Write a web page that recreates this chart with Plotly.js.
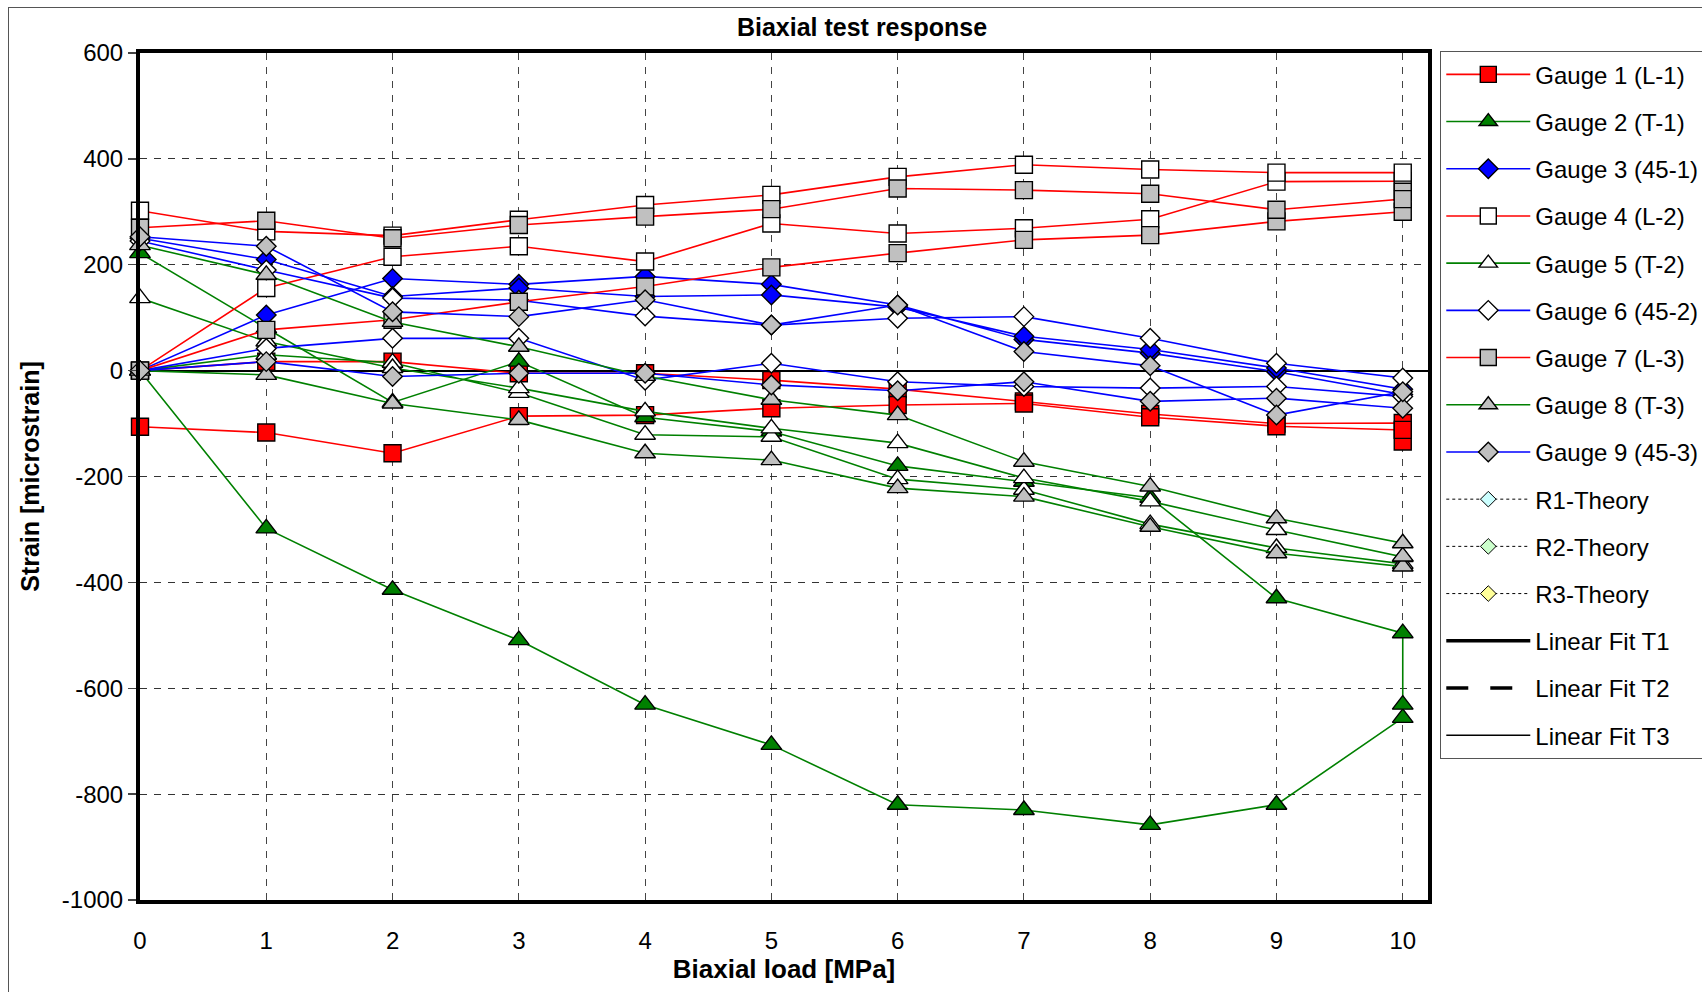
<!DOCTYPE html>
<html><head><meta charset="utf-8">
<script src="https://cdn.plot.ly/plotly-3.0.1.min.js"></script>
<style>
html,body{margin:0;padding:0;background:#fff;overflow:hidden}
#chart{width:1702px;height:992px;position:absolute;left:0;top:0}
#frame{position:absolute;left:8px;top:7px;width:1800px;height:1100px;border-left:1.3px solid #555;border-top:1.3px solid #555;pointer-events:none}
</style></head><body>
<div id="chart"></div><div id="frame"></div>
<script>
// Load steps (MPa): loading 0->10, hold readings at 10, unloading 10->0
const loadSteps = [0,1,2,3,4,5,6,7,8,9,10];
const unloadSteps = [10,9,8,7,6,5,4,3,2,1,0];
const holdStep = 10;

// Strain readings [microstrain]
const g1Load   = [0, 17, 17, -5, -5, -18, -35, -58, -82, -100, -99];
const g1Hold   = [-134];
const g1Unload = [-112, -105, -88, -62, -65, -71, -84, -86, -156, -117, -106];

const g2Load   = [0, -298, -414, -509, -631, -707, -820, -830, -858, -820, -656];
const g2Hold   = [-631];
const g2Unload = [-496, -430, -240, -210, -180, -115, -88, 17, -60, 80, 222];

const g3Load   = [0, 105, 174, 163, 178, 163, 124, 59, 33, -2, -45];
const g3Hold   = [];
const g3Unload = [-35, 5, 40, 65, 120, 143, 140, 156, 140, 210, 250];

const g4Load   = [0, 156, 215, 235, 206, 278, 259, 269, 286, 357, 358];
const g4Hold   = [];
const g4Unload = [374, 374, 380, 389, 366, 332, 313, 285, 255, 263, 302];

const g5Load   = [0, 30, 15, -42, -121, -125, -205, -225, -290, -335, -365];
const g5Hold   = [];
const g5Unload = [-352, -301, -247, -203, -137, -109, -77, -33, 5, 55, 137];

const g6Load   = [0, 42, 61, 61, -18, 14, -21, -30, -33, -30, -49];
const g6Hold   = [];
const g6Unload = [-14, 14, 61, 102, 99, 86, 103, 133, 137, 190, 245];

const g7Load   = [0, 77, 96, 130, 159, 195, 222, 247, 256, 282, 300];
const g7Hold   = [338];
const g7Unload = [324, 304, 334, 341, 344, 305, 291, 275, 250, 283, 270];

const g8Load   = [0, -8, -62, -93, -156, -169, -222, -238, -295, -345, -370];
const g8Hold   = [-351];
const g8Unload = [-326, -279, -219, -172, -84, -55, -10, 45, 92, 181, 237];

const g9Load   = [0, 17, -11, -5, -5, -27, -38, -21, -58, -52, -71];
const g9Hold   = [];
const g9Unload = [-40, -84, 9, 36, 124, 86, 134, 102, 111, 235, 253];

const gaugeNames = ['Gauge 1 (L-1)','Gauge 2 (T-1)','Gauge 3 (45-1)','Gauge 4 (L-2)','Gauge 5 (T-2)','Gauge 6 (45-2)','Gauge 7 (L-3)','Gauge 8 (T-3)','Gauge 9 (45-3)'];
const theoryNames = ['R1-Theory','R2-Theory','R3-Theory'];
const fitNames = ['Linear Fit T1','Linear Fit T2','Linear Fit T3'];

const yTickVals = [-1000,-800,-600,-400,-200,0,200,400,600];
const yTickText = ['-1000','-800','-600','-400','-200','0','200','400','600'];
const xTickVals = [0,1,2,3,4,5,6,7,8,9,10];
const xTickText = ['0','1','2','3','4','5','6','7','8','9','10'];

const RED='#FF0000', GREEN='#008000', BLUE='#0000FF', GRAY='#C0C0C0', WHITE='#FFFFFF';
const FONT='Liberation Sans, Arial, sans-serif';

function gauge(i, load, hold, unload, lineColor, symbol, fill, size){
  return {
    type:'scatter', mode:'lines+markers', name:gaugeNames[i],
    legendgroup:'g'+i,
    x: loadSteps.concat(hold.map(()=>holdStep), unloadSteps),
    y: load.concat(hold, unload),
    line:{color:lineColor, width:1.6},
    marker:{symbol:symbol, size:size, color:fill, line:{color:'#000', width:1.4}},
    cliponaxis:false
  };
}

const traces = [
  gauge(0, g1Load, g1Hold, g1Unload, RED, 'square', RED, 17),
  gauge(1, g2Load, g2Hold, g2Unload, GREEN, 'triangle-up', GREEN, 18),
  gauge(2, g3Load, g3Hold, g3Unload, BLUE, 'diamond', BLUE, 15),
  gauge(3, g4Load, g4Hold, g4Unload, RED, 'square', WHITE, 17),
  gauge(4, g5Load, g5Hold, g5Unload, GREEN, 'triangle-up', WHITE, 18),
  gauge(5, g6Load, g6Hold, g6Unload, BLUE, 'diamond', WHITE, 15),
  gauge(6, g7Load, g7Hold, g7Unload, RED, 'square', GRAY, 17),
  gauge(7, g8Load, g8Hold, g8Unload, GREEN, 'triangle-up', GRAY, 18),
  gauge(8, g9Load, g9Hold, g9Unload, BLUE, 'diamond', GRAY, 15)
];
const theoryFills = ['#CCFFFF','#CCFFCC','#FFFF99'];
theoryNames.forEach((n,k)=>traces.push({
  type:'scatter', mode:'lines+markers', name:n, legendgroup:'t'+k,
  x:[null], y:[null],
  line:{color:'#000', width:1, dash:'dot'},
  marker:{symbol:'diamond', size:12, color:theoryFills[k], line:{color:'#000', width:1}}
}));
const fitStyles = [{width:3.5},{width:3.5, dash:'22px,22px'},{width:1.5}];
fitNames.forEach((n,k)=>traces.push({
  type:'scatter', mode:'lines', name:n, legendgroup:'f'+k,
  x:[null], y:[null],
  line:Object.assign({color:'#000'}, fitStyles[k])
}));

const layout = {
  width:1702, height:992,
  paper_bgcolor:'#fff', plot_bgcolor:'#fff',
  font:{family:FONT, color:'#000', size:24},
  margin:{l:140, r:273.5, t:53, b:92, autoexpand:false},
  title:{text:'Biaxial test response', font:{family:FONT, size:25, weight:'bold', color:'#000'},
         xref:'container', x:862/1702, xanchor:'center', yref:'container', y:1-27/992, yanchor:'middle'},
  xaxis:{
    range:[0,10.2], tickvals:xTickVals, ticktext:xTickText,
    ticks:'outside', ticklen:16, tickcolor:'rgba(0,0,0,0)',
    showgrid:true, gridcolor:'#444', gridwidth:1, griddash:'7px,7px',
    showline:true, mirror:true, linecolor:'#000', linewidth:4,
    zeroline:false,
    tickfont:{family:FONT, size:24},
    title:{text:'Biaxial load [MPa]', font:{family:FONT, size:26, weight:'bold'}, standoff:8}
  },
  yaxis:{
    range:[-1000,600], tickvals:yTickVals, ticktext:yTickText,
    ticks:'outside', ticklen:8, tickcolor:'#444', tickwidth:1.3,
    showgrid:true, gridcolor:'#333', gridwidth:1, griddash:'7px,7px',
    showline:true, mirror:true, linecolor:'#000', linewidth:4,
    zeroline:true, zerolinecolor:'#000', zerolinewidth:1.8,
    tickfont:{family:FONT, size:24},
    title:{text:'Strain [microstrain]', font:{family:FONT, size:25, weight:'bold'}, standoff:16}
  },
  legend:{
    x:1.0093, y:1.0024, xanchor:'left', yanchor:'top',
    bgcolor:'#fff', bordercolor:'#555', borderwidth:1.3,
    font:{family:FONT, size:24, color:'#000'},
    itemwidth:84, tracegroupgap:13, traceorder:'grouped',
    maxheight:960
  },
  showlegend:true
};

Plotly.newPlot('chart', traces, layout, {displayModeBar:false, staticPlot:true});
</script>
</body></html>
